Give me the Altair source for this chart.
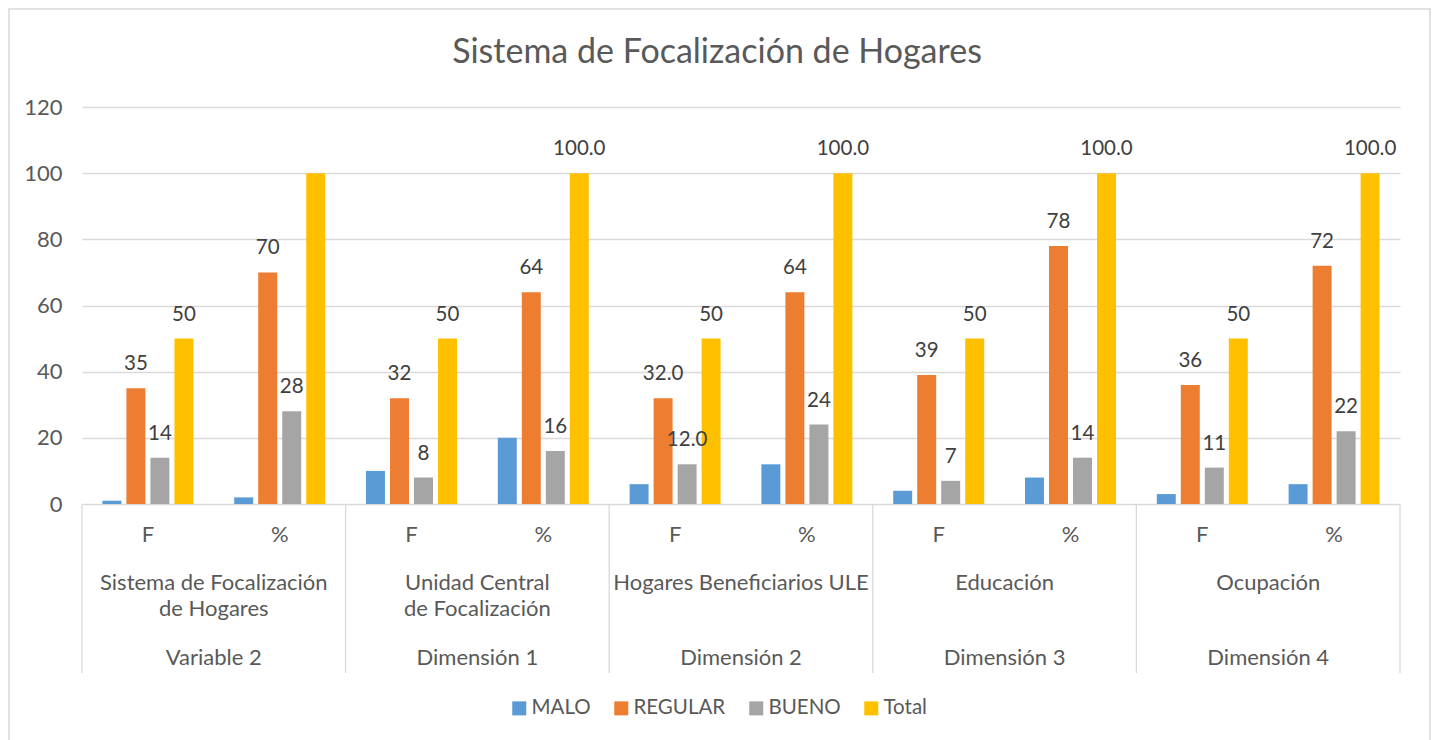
import altair as alt
import pandas as pd

FONT = "Lato"

title_text = "Sistema de Focalización de Hogares"
dimensions = ["Variable 2", "Dimensión 1", "Dimensión 2", "Dimensión 3", "Dimensión 4"]
groups = ["Sistema de Focalización\nde Hogares", "Unidad Central\nde Focalización",
          "Hogares Beneficiarios ULE", "Educación", "Ocupación"]
measures = ["F", "%"]
series = ["MALO", "REGULAR", "BUENO", "Total"]
colors = ["#5B9BD5", "#ED7D31", "#A5A5A5", "#FFC000"]

malo = [1, 2, 10, 20, 6, 12, 4, 8, 3, 6]
regular = [35, 70, 32, 64, 32, 64, 39, 78, 36, 72]
bueno = [14, 28, 8, 16, 12, 24, 7, 14, 11, 22]
total = [50, 100, 50, 100, 50, 100, 50, 100, 50, 100]

malo_labels = [""] * 10
regular_labels = ["35", "70", "32", "64", "32.0", "64", "39", "78", "36", "72"]
bueno_labels = ["14", "28", "8", "16", "12.0", "24", "7", "14", "11", "22"]
total_labels = ["50", "", "50", "100.0", "50", "100.0", "50", "100.0", "50", "100.0"]

y_ticks = [0, 20, 40, 60, 80, 100, 120]

# ---- tables built from the lists above ----
cat_ids = [f"{d}|{m}" for d in dimensions for m in measures]
values = {"MALO": malo, "REGULAR": regular, "BUENO": bueno, "Total": total}
labels = {"MALO": malo_labels, "REGULAR": regular_labels, "BUENO": bueno_labels, "Total": total_labels}

rows = []
for i, c in enumerate(cat_ids):
    for s in series:
        rows.append({"cat": c, "series": s, "value": values[s][i], "label": labels[s][i]})
bars_df = pd.DataFrame(rows)

cats_df = pd.DataFrame({"cat": cat_ids, "measure": [m for _ in dimensions for m in measures]})
dims_df = pd.DataFrame({"cat": [f"{d}|F" for d in dimensions], "group": groups, "dim": dimensions})
last_df = pd.DataFrame({"cat": [cat_ids[-1]]})

xscale = alt.Scale(domain=cat_ids, paddingInner=0, paddingOuter=0)
yscale = alt.Scale(domain=[0, 120])
offscale = alt.Scale(domain=series, paddingInner=0.21, paddingOuter=0.85)

grey_text = "#595959"
CAT_SIZE = 22

bars = alt.Chart(bars_df).mark_bar().encode(
    x=alt.X("cat:N", scale=xscale, axis=None),
    xOffset=alt.XOffset("series:N", sort=series, scale=offscale),
    y=alt.Y("value:Q", scale=yscale,
            axis=alt.Axis(values=y_ticks, title=None, domain=False, ticks=False,
                          labelPadding=20, labelFontSize=22, labelColor=grey_text,
                          labelFont=FONT, gridColor="#d9d9d9", gridWidth=1.3)),
    color=alt.Color("series:N", sort=series,
                    scale=alt.Scale(domain=series, range=colors),
                    legend=alt.Legend(orient="none", legendX=427, legendY=591,
                                      direction="horizontal", title=None,
                                      symbolType="square", symbolSize=196,
                                      symbolStrokeWidth=0, labelFontSize=20.5,
                                      labelColor=grey_text, labelFont=FONT,
                                      columnPadding=20, labelOffset=2)),
)

bar_labels = alt.Chart(bars_df).mark_text(
    fontSize=20.5, color="#404040", font=FONT, baseline="middle", dy=-24
).encode(
    x=alt.X("cat:N", scale=xscale, axis=None),
    xOffset=alt.XOffset("series:N", sort=series, scale=offscale),
    y=alt.Y("value:Q", scale=yscale),
    text="label:N",
)

level1 = alt.Chart(cats_df).mark_text(
    fontSize=CAT_SIZE, color=grey_text, font=FONT, baseline="middle"
).encode(
    x=alt.X("cat:N", scale=xscale, axis=None),
    y=alt.value(428),
    text="measure:N",
)

level2 = alt.Chart(dims_df).mark_text(
    fontSize=CAT_SIZE, color=grey_text, font=FONT, baseline="top", lineBreak="\n", lineHeight=26
).encode(
    x=alt.X("cat:N", scale=xscale, axis=None, bandPosition=1),
    y=alt.value(466),
    text="group:N",
)

level3 = alt.Chart(dims_df).mark_text(
    fontSize=CAT_SIZE, color=grey_text, font=FONT, baseline="middle"
).encode(
    x=alt.X("cat:N", scale=xscale, axis=None, bandPosition=1),
    y=alt.value(551),
    text="dim:N",
)

sep = alt.Chart(dims_df).mark_rule(color="#d9d9d9", strokeWidth=1.3).encode(
    x=alt.X("cat:N", scale=xscale, axis=None, bandPosition=0),
    y=alt.value(397), y2=alt.value(566),
)
sep_last = alt.Chart(last_df).mark_rule(color="#d9d9d9", strokeWidth=1.3).encode(
    x=alt.X("cat:N", scale=xscale, axis=None, bandPosition=1),
    y=alt.value(397), y2=alt.value(566),
)

title = alt.Chart(pd.DataFrame({"t": [title_text]})).mark_text(
    fontSize=34, color=grey_text, font=FONT, baseline="middle", align="center"
).encode(x=alt.value(635), y=alt.value(-54), text="t:N")

border = alt.Chart(pd.DataFrame({"b": [0]})).mark_rect(
    fill=None, stroke="#d9d9d9", strokeWidth=1.5
).encode(x=alt.value(-73), x2=alt.value(1348), y=alt.value(-98), y2=alt.value(660))

chart = alt.layer(border, bars, bar_labels, level1, level2, level3, sep, sep_last, title).properties(
    width=1318, height=397,
    autosize=alt.AutoSizeParams(type="none"),
    padding={"left": 74, "top": 99, "right": 32, "bottom": 236},
).configure_view(stroke=None)

chart.save("out.html", embed_options={"renderer": "svg", "actions": False})
